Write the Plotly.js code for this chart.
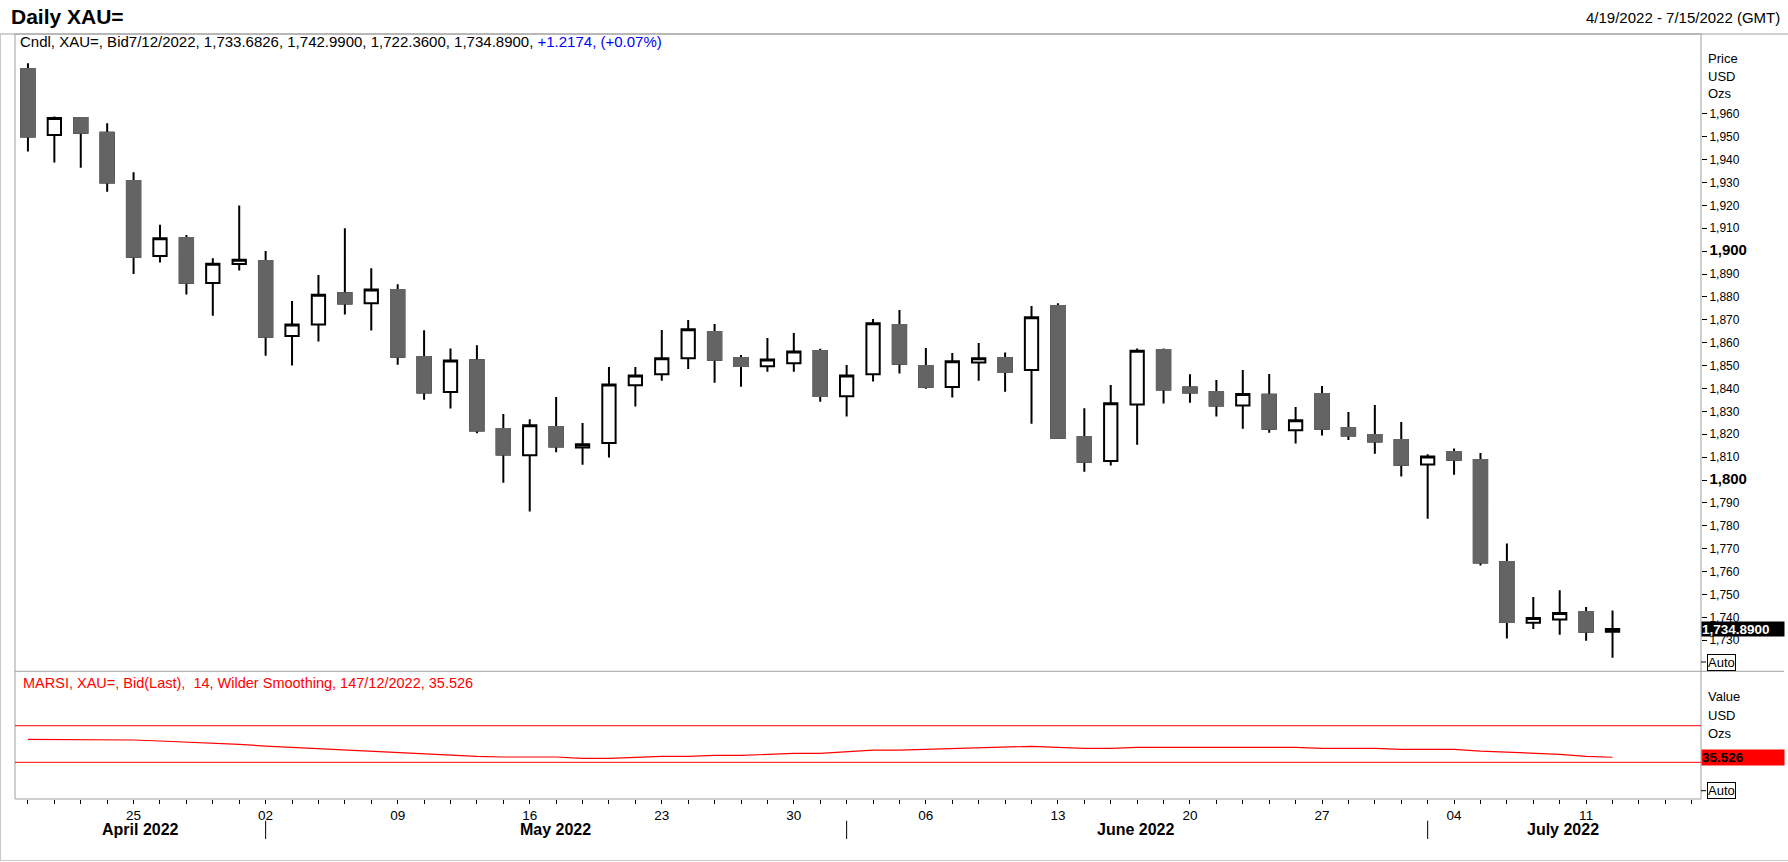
<!DOCTYPE html>
<html>
<head>
<meta charset="utf-8">
<script src="https://cdn.plot.ly/plotly-3.0.1.min.js"></script>
<style>
  html, body { margin: 0; padding: 0; background: #fff; }
  #chart { width: 1788px; height: 862px; }
</style>
</head>
<body>
<div id="chart"></div>
<script>
// ---- data (daily XAU= bid, 19 Apr - 12 Jul 2022) ----
const dates = [
  '2022-04-19','2022-04-20','2022-04-21','2022-04-22',
  '2022-04-25','2022-04-26','2022-04-27','2022-04-28','2022-04-29',
  '2022-05-02','2022-05-03','2022-05-04','2022-05-05','2022-05-06',
  '2022-05-09','2022-05-10','2022-05-11','2022-05-12','2022-05-13',
  '2022-05-16','2022-05-17','2022-05-18','2022-05-19','2022-05-20',
  '2022-05-23','2022-05-24','2022-05-25','2022-05-26','2022-05-27',
  '2022-05-30','2022-05-31','2022-06-01','2022-06-02','2022-06-03',
  '2022-06-06','2022-06-07','2022-06-08','2022-06-09','2022-06-10',
  '2022-06-13','2022-06-14','2022-06-15','2022-06-16','2022-06-17',
  '2022-06-20','2022-06-21','2022-06-22','2022-06-23','2022-06-24',
  '2022-06-27','2022-06-28','2022-06-29','2022-06-30','2022-07-01',
  '2022-07-04','2022-07-05','2022-07-06','2022-07-07','2022-07-08',
  '2022-07-11','2022-07-12'
];
// empty trading days to the right edge of the chart (range ends 7/15)
const futureDates = ['2022-07-13','2022-07-14','2022-07-15'];

const open = [
  1979.6, 1950.8, 1958.2, 1951.7,
  1930.7, 1897.9, 1905.8, 1886.1, 1894.4,
  1895.7, 1862.9, 1868.0, 1881.6, 1877.2,
  1883.0, 1853.8, 1838.5, 1852.3, 1822.3,
  1810.8, 1823.2, 1814.2, 1816.2, 1841.4,
  1846.2, 1853.2, 1864.7, 1853.3, 1849.7,
  1851.0, 1856.4, 1836.6, 1846.2, 1867.7,
  1849.8, 1840.6, 1851.4, 1853.3, 1848.1,
  1876.0, 1818.8, 1808.3, 1833.0, 1856.8,
  1840.4, 1838.5, 1832.6, 1837.3, 1821.7,
  1837.6, 1822.7, 1819.7, 1817.5, 1806.8,
  1812.2, 1808.7, 1764.2, 1737.6, 1739.0,
  1742.3, 1733.6826
];
const high = [
  1982.1, 1958.8, 1958.5, 1955.9,
  1934.5, 1911.5, 1907.1, 1896.9, 1920.0,
  1900.1, 1878.2, 1889.6, 1910.0, 1892.5,
  1885.5, 1865.4, 1857.5, 1858.9, 1828.8,
  1826.5, 1836.3, 1824.9, 1849.4, 1849.4,
  1865.6, 1869.9, 1868.2, 1854.6, 1862.1,
  1864.2, 1857.3, 1850.3, 1870.4, 1874.3,
  1857.7, 1855.5, 1859.9, 1855.7, 1876.0,
  1877.2, 1831.3, 1841.5, 1857.5, 1857.5,
  1846.2, 1843.7, 1848.1, 1846.3, 1831.9,
  1841.1, 1829.7, 1832.8, 1825.3, 1811.2,
  1813.8, 1811.8, 1772.3, 1748.9, 1751.8,
  1744.5, 1742.99
];
const low = [
  1943.5, 1938.7, 1936.5, 1926.0,
  1890.0, 1895.0, 1881.1, 1871.8, 1891.5,
  1854.3, 1850.0, 1860.5, 1872.3, 1865.3,
  1850.4, 1835.1, 1831.2, 1820.4, 1798.8,
  1786.2, 1812.1, 1806.7, 1809.8, 1832.1,
  1843.4, 1848.5, 1842.5, 1840.8, 1847.3,
  1847.3, 1834.2, 1827.7, 1843.0, 1846.5,
  1839.9, 1836.1, 1843.4, 1838.6, 1824.6,
  1818.3, 1803.6, 1806.3, 1815.4, 1833.4,
  1833.8, 1827.7, 1822.4, 1820.7, 1815.9,
  1819.4, 1817.5, 1811.5, 1801.5, 1783.1,
  1802.3, 1762.6, 1730.7, 1734.9, 1732.4,
  1729.8, 1722.36
];
const close = [
  1950.1, 1958.2, 1951.8, 1930.0,
  1897.6, 1905.6, 1886.2, 1894.5, 1896.3,
  1862.6, 1867.9, 1881.0, 1877.1, 1883.3,
  1853.9, 1838.2, 1852.2, 1821.6, 1811.1,
  1823.9, 1814.6, 1815.6, 1841.7, 1845.7,
  1853.2, 1865.9, 1852.6, 1849.8, 1852.7,
  1856.2, 1836.7, 1845.7, 1868.5, 1850.8,
  1840.8, 1851.9, 1853.2, 1847.2, 1871.1,
  1818.5, 1808.0, 1833.5, 1856.5, 1839.5,
  1838.2, 1832.5, 1837.6, 1822.4, 1826.1,
  1822.4, 1819.4, 1816.8, 1806.7, 1810.3,
  1808.9, 1763.9, 1737.9, 1739.7, 1741.9,
  1733.7, 1734.89
];
// MARSI(14, Wilder smoothing)
const marsi = [
  55.1, 55.1, 55.1, 55.1,
  54.4, 53.3, 52.2, 50.7, 49.6,
  47.8, 46.4, 44.6, 43.1, 41.6,
  40.2, 39.1, 38.0, 36.5, 35.8,
  35.8, 35.8, 34.3, 34.3, 35.4,
  36.5, 36.5, 37.6, 37.6, 38.7,
  39.8, 39.8, 41.3, 43.4, 43.4,
  44.2, 45.3, 46.4, 46.4, 47.5,
  46.4, 45.3, 45.3, 46.4, 46.4,
  46.4, 46.4, 46.4, 46.4, 46.4,
  45.3, 45.3, 45.3, 44.2, 44.2,
  44.2, 42.3, 41.3, 39.8, 38.7,
  36.5, 35.526
];
const rsiLevels = [30, 70];

const priceTicks = [1730, 1740, 1750, 1760, 1770, 1780, 1790, 1800, 1810, 1820, 1830, 1840,
  1850, 1860, 1870, 1880, 1890, 1900, 1910, 1920, 1930, 1940, 1950, 1960];
const majorTicks = [1800, 1900];

const dayTickDates = ['2022-04-25','2022-05-02','2022-05-09','2022-05-16','2022-05-23','2022-05-30',
  '2022-06-06','2022-06-13','2022-06-20','2022-06-27','2022-07-04','2022-07-11'];
const dayTickLabels = ['25','02','09','16','23','30','06','13','20','27','04','11'];
const monthStarts = ['2022-05-02','2022-06-01','2022-07-01'];
const monthLabels = ['April 2022','May 2022','June 2022','July 2022'];

// ---- page geometry (pixels) ----
const PL = 15, PR = 1701, PT = 34, PB = 799, SPLIT = 671.3;
const fx = X => (X - PL) / (PR - PL);
const fy = Y => (PB - Y) / (PB - PT);

const FONT = 'Arial, "Liberation Sans", sans-serif';
const GREY = '#646464';
const FRAME = '#a0a0a0';

const axisDates = dates.concat(futureDates);
const fmt = v => v.toLocaleString('en-US');

// candles: black wicks/outlines, grey down bodies laid over without a border
const downIdx = dates.map((d, i) => i).filter(i => close[i] < open[i]);

const candles = {
  type: 'candlestick',
  x: dates, open, high, low, close,
  xaxis: 'x', yaxis: 'y',
  increasing: { line: { color: '#000', width: 2 }, fillcolor: '#fff' },
  decreasing: { line: { color: '#000', width: 2 }, fillcolor: GREY },
  whiskerwidth: 0,
  hoverinfo: 'skip'
};
const downBodies = {
  type: 'candlestick',
  x: downIdx.map(i => dates[i]),
  open: downIdx.map(i => open[i]),
  close: downIdx.map(i => close[i]),
  high: downIdx.map(i => open[i]),
  low: downIdx.map(i => close[i]),
  xaxis: 'x', yaxis: 'y',
  increasing: { line: { color: GREY, width: 2 }, fillcolor: GREY },
  decreasing: { line: { color: GREY, width: 2 }, fillcolor: GREY },
  whiskerwidth: 0,
  hoverinfo: 'skip'
};
const rsiLine = {
  type: 'scatter', mode: 'lines',
  x: dates, y: marsi,
  xaxis: 'x', yaxis: 'y2',
  line: { color: '#ff0000', width: 1.2 },
  hoverinfo: 'skip'
};

const hline = (Y, X0, X1, color) => ({
  type: 'line', xref: 'paper', yref: 'paper',
  x0: fx(X0), x1: fx(X1), y0: fy(Y), y1: fy(Y),
  line: { color, width: 1 }
});
const vline = (X, Y0, Y1, color) => ({
  type: 'line', xref: 'paper', yref: 'paper',
  x0: fx(X), x1: fx(X), y0: fy(Y0), y1: fy(Y1),
  line: { color, width: 1 }
});

const shapes = [
  // frames
  { type: 'rect', xref: 'paper', yref: 'paper', x0: 0, x1: 1, y0: 0, y1: 1,
    line: { color: FRAME, width: 1 } },
  hline(PT, 0, 1788, FRAME),
  hline(SPLIT, PL, 1784, FRAME),
  vline(0.5, PT, 861, '#c8c8c8'),
  hline(860.5, 0, 1788, '#c8c8c8'),
  // little dashes in front of the Auto buttons
  hline(662, PR, 1706, '#000'),
  hline(790.7, PR, 1706, '#000')
];
// overbought / oversold levels
rsiLevels.forEach(v => shapes.push({
  type: 'line', xref: 'paper', yref: 'y2', x0: 0, x1: 1, y0: v, y1: v,
  line: { color: '#ff0000', width: 1 }
}));
// month separators under the day labels
monthStarts.forEach(d => {
  const i = axisDates.indexOf(d);
  shapes.push({
    type: 'line', xref: 'x', yref: 'paper', x0: i, x1: i, y0: fy(820.7), y1: fy(839),
    line: { color: '#000', width: 1 }
  });
});

const txt = (text, X, Y, size, extra) => Object.assign({
  text, xref: 'paper', yref: 'paper', x: fx(X), y: fy(Y),
  xanchor: 'left', yanchor: 'middle', showarrow: false,
  font: { family: FONT, size, color: '#000' }
}, extra || {});

const monthX = [140, 555, 1135, 1563];
const annotations = [
  txt('<b>Daily XAU=</b>', 9, 16, 21),
  txt('4/19/2022 - 7/15/2022 (GMT)', 1782, 17, 15, { xanchor: 'right' }),
  txt('Cndl, XAU=, Bid7/12/2022, ' + [open[60], high[60], low[60], close[60]]
      .map(v => v.toLocaleString('en-US', { minimumFractionDigits: 4, maximumFractionDigits: 4 })).join(', ')
      + ', <span style="color:#0000ff">+1.2174, (+0.07%)</span>', 18, 42, 15),
  txt('Price', 1706, 58.4, 13),
  txt('USD', 1706, 76.7, 13),
  txt('Ozs', 1706, 93.5, 13),
  txt('MARSI, XAU=, Bid(Last),  14, Wilder Smoothing, 147/12/2022, ' + marsi[60],
      21, 682.7, 14.5, { font: { family: FONT, size: 14.5, color: '#ff0000' } }),
  txt('Value', 1706, 696.7, 13),
  txt('USD', 1706, 715, 13),
  txt('Ozs', 1706, 733.3, 13),
  txt('Auto', 1707, 662, 13, { bordercolor: '#000', borderwidth: 1, borderpad: 0, bgcolor: '#fff' }),
  txt('Auto', 1707, 790.7, 13, { bordercolor: '#000', borderwidth: 1, borderpad: 0, bgcolor: '#fff' }),
  // last value tags on the right axis
  {
    text: '<b>' + close[60].toLocaleString('en-US', { minimumFractionDigits: 4 }) + '</b>',
    xref: 'paper', yref: 'y', x: 1, y: close[60], xanchor: 'left', yanchor: 'middle',
    showarrow: false, bgcolor: '#000', width: 82, height: 14, align: 'left', borderpad: 0,
    font: { family: FONT, size: 13.5, color: '#fff' }
  },
  {
    text: '<b>' + marsi[60] + '</b>',
    xref: 'paper', yref: 'y2', x: 1, y: marsi[60], xanchor: 'left', yanchor: 'middle',
    showarrow: false, bgcolor: '#ff0000', width: 82, height: 15, align: 'left', borderpad: 0,
    font: { family: FONT, size: 13.5, color: '#000' }
  }
];
monthLabels.forEach((m, k) => annotations.push(
  txt('<b>' + m + '</b>', monthX[k], 829, 16, { xanchor: 'center' })
));

const layout = {
  width: 1788, height: 862,
  margin: { l: PL, r: 1788 - PR, t: PT, b: 862 - PB, pad: 0 },
  paper_bgcolor: '#fff', plot_bgcolor: '#fff',
  showlegend: false, hovermode: false,
  boxgap: 0.28,
  font: { family: FONT, color: '#000' },
  xaxis: {
    type: 'category', categoryorder: 'array', categoryarray: axisDates,
    range: [-0.49, 63.35], anchor: 'y2',
    tickmode: 'array', tickvals: axisDates,
    ticktext: axisDates.map(d => {
      const k = dayTickDates.indexOf(d);
      return k >= 0 ? dayTickLabels[k] : '';
    }),
    ticks: 'outside', ticklen: 4, tickwidth: 1, tickcolor: '#000',
    tickfont: { family: FONT, size: 13.5, color: '#000' },
    showgrid: false, zeroline: false, showline: false,
    rangeslider: { visible: false }, fixedrange: true
  },
  yaxis: {
    domain: [fy(SPLIT), 1], side: 'right',
    range: [1716.4, 1994.9],
    tickmode: 'array', tickvals: priceTicks,
    ticktext: priceTicks.map(v => majorTicks.includes(v)
      ? '<b><span style="font-size:15px">' + fmt(v) + '</span></b>' : fmt(v)),
    ticks: 'outside', ticklen: 5, tickwidth: 1, tickcolor: '#000',
    tickfont: { family: FONT, size: 12, color: '#000' },
    showgrid: false, zeroline: false, showline: false, fixedrange: true
  },
  yaxis2: {
    domain: [0, fy(SPLIT)], side: 'right',
    range: [-10.1, 129.5],
    showticklabels: false, ticks: '',
    showgrid: false, zeroline: false, showline: false, fixedrange: true
  },
  shapes,
  annotations
};

Plotly.newPlot('chart', [candles, downBodies, rsiLine], layout, { displayModeBar: false, staticPlot: true });
</script>
</body>
</html>
